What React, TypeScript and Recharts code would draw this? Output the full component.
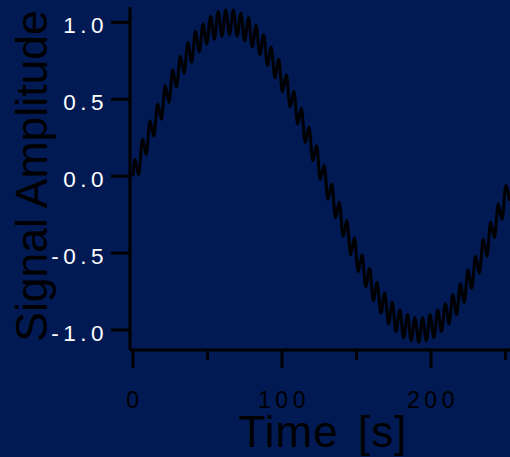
import * as React from 'react'
import { LineChart, Line, XAxis, YAxis } from 'recharts'

// time stamps (s) of the ripple crests / troughs
const time = [
  0, 1.3, 3.8, 6.4, 8.9, 11.4, 14.0, 16.5, 19.1, 21.6, 24.1,
  26.7, 29.2, 31.8, 34.3, 36.8, 39.4, 41.9, 44.5, 47.0, 49.5,
  52.1, 54.6, 57.2, 59.7, 62.2, 64.8, 67.3, 69.9, 72.4, 74.9,
  77.5, 80.0, 82.6, 85.1, 87.6, 90.2, 92.7, 95.3, 97.8, 100.3,
  102.9, 105.4, 108.0, 110.5, 113.0, 115.6, 118.1, 120.7, 123.2, 125.7,
  128.3, 130.8, 133.4, 135.9, 138.4, 141.0, 143.5, 146.1, 148.6, 151.1,
  153.7, 156.2, 158.8, 161.3, 163.8, 166.4, 168.9, 171.5, 174.0, 176.5,
  179.1, 181.6, 184.2, 186.7, 189.2, 191.8, 194.3, 196.9, 199.4, 201.9,
  204.5, 207.0, 209.6, 212.1, 214.6, 217.2, 219.7, 222.3, 224.8, 227.3,
  229.9, 232.4, 235.0, 237.5, 240.0, 242.6, 245.1, 247.7, 250.2, 252.7,
]

const amplitude = [
  0, 0.11, 0.01, 0.24, 0.14, 0.36, 0.26, 0.47, 0.37, 0.59, 0.48,
  0.69, 0.58, 0.78, 0.67, 0.87, 0.74, 0.94, 0.81, 0.99, 0.86,
  1.04, 0.89, 1.07, 0.91, 1.08, 0.92, 1.08, 0.91, 1.06, 0.88,
  1.03, 0.84, 0.98, 0.79, 0.92, 0.72, 0.84, 0.64, 0.76, 0.55,
  0.66, 0.45, 0.55, 0.34, 0.44, 0.22, 0.32, 0.10, 0.20, -0.02,
  0.07, -0.15, -0.05, -0.27, -0.17, -0.39, -0.29, -0.51, -0.40, -0.62,
  -0.51, -0.72, -0.60, -0.81, -0.69, -0.89, -0.76, -0.96, -0.82, -1.01,
  -0.87, -1.05, -0.90, -1.07, -0.92, -1.08, -0.92, -1.07, -0.90, -1.05,
  -0.87, -1.01, -0.83, -0.96, -0.77, -0.90, -0.70, -0.82, -0.61, -0.73,
  -0.52, -0.63, -0.41, -0.52, -0.30, -0.40, -0.18, -0.28, -0.06, -0.16,
]

const xTicks = [0, 50, 100, 150, 200, 250]
const xLabelled = [0, 100, 200]
const yTicks = [-1, -0.5, 0, 0.5, 1]

const data = time.map((t, i) => ({ time: t, amplitude: amplitude[i] }))

const FONT = '"Liberation Sans", Arial, sans-serif'
const BG = '#011a54'

const XTick = (props: any) => {
  const { x, y, payload } = props
  const major = xLabelled.includes(payload.value)
  return (
    <g>
      <line x1={x} x2={x} y1={y} y2={y + (major ? 18 : 10)} stroke="#000" strokeWidth={3} />
      {major && (
        <text x={x} y={y + 58} dx={2} textAnchor="middle" fill="#000"
          fontSize={23} fontFamily={FONT} letterSpacing={4.5}>
          {payload.value}
        </text>
      )}
    </g>
  )
}

const YTick = (props: any) => {
  const { x, y, payload } = props
  return (
    <g>
      <line x1={x - 19} x2={x} y1={y} y2={y} stroke="#000" strokeWidth={3} />
      <text x={x - 22} y={y + 10.5} textAnchor="end" fill="#fff"
        fontSize={22.5} fontFamily={FONT} letterSpacing={4.5}>
        {payload.value.toFixed(1)}
      </text>
    </g>
  )
}

const App = () => {
  return (
    <div style={{ position: 'absolute', left: 0, top: 0, width: 510, height: 457, background: BG }}>
      <LineChart width={510} height={457} data={data}
        margin={{ top: 7, right: 0, bottom: 47, left: 0 }}>
        <XAxis dataKey="time" type="number" domain={[-2, 253]} allowDataOverflow
          ticks={xTicks} interval={0} tick={XTick} tickLine={false}
          tickSize={0} tickMargin={0} height={60}
          axisLine={{ stroke: '#000', strokeWidth: 3 }}
          label={() => (
            <text x={323} y={447} textAnchor="middle" fill="#000"
              fontSize={44} fontFamily={FONT} letterSpacing={1} wordSpacing={6}>
              Time [s]
            </text>
          )} />
        <YAxis type="number" domain={[-1.13, 1.1]} allowDataOverflow
          ticks={yTicks} interval={0} tick={YTick} tickLine={false}
          tickSize={0} tickMargin={0} width={130}
          axisLine={{ stroke: '#000', strokeWidth: 3 }}
          label={() => (
            <text x={47} y={176} transform="rotate(-90 47 176)" textAnchor="middle"
              fill="#000" fontSize={44.5} fontFamily={FONT}>
              Signal Amplitude
            </text>
          )} />
        <Line type="monotone" dataKey="amplitude" stroke="#000" strokeWidth={3}
          dot={false} isAnimationActive={false} />
      </LineChart>
    </div>
  )
}

export default App
